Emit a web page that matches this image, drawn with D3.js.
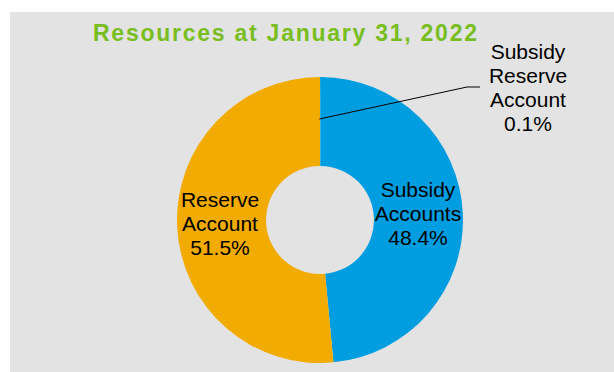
<!DOCTYPE html>
<html>
<head>
<meta charset="utf-8">
<script src="https://cdn.jsdelivr.net/npm/d3@7"></script>
<style>
  body { margin: 0; background: #fff; }
  text { font-family: "Liberation Sans", Arial, sans-serif; }
</style>
</head>
<body>
<div id="my_dataviz"></div>
<script>
// data
var categories = ["Subsidy Reserve Account", "Subsidy Accounts", "Reserve Account"]
var values = [0.1, 48.4, 51.5]
var labelLines = [
  ["Subsidy", "Reserve", "Account", "0.1%"],
  ["Subsidy", "Accounts", "48.4%"],
  ["Reserve", "Account", "51.5%"]
]
var colors = ["#009ee0", "#009ee0", "#f2ab00"]

var width = 614,
    height = 372,
    cx = 320,
    cy = 220,
    radius = 143,
    inner = 54

var svg = d3.select("#my_dataviz")
  .append("svg")
    .attr("width", width)
    .attr("height", height)

// gray plot background
svg.append("rect")
  .attr("x", 10).attr("y", 12)
  .attr("width", width - 10).attr("height", height - 12)
  .attr("fill", "#e3e3e3")

svg.append("text")
  .attr("x", 93).attr("y", 41)
  .attr("textLength", 384)
  .attr("lengthAdjust", "spacing")
  .style("font-size", "23px")
  .style("font-weight", "bold")
  .attr("fill", "#78be20")
  .text("Resources at January 31, 2022")

var g = svg.append("g")
  .attr("transform", "translate(" + cx + "," + cy + ")")

var pie = d3.pie().sort(null).value(function(d) { return d.value })
var data_ready = pie(categories.map(function(c, i) { return { key: c, value: values[i], i: i } }))

var arc = d3.arc().innerRadius(inner).outerRadius(radius)

g.selectAll("path")
  .data(data_ready)
  .enter()
  .append("path")
    .attr("d", arc)
    .attr("fill", function(d) { return colors[d.data.i] })

// label positions (relative to centre)
var labelPos = [[208, -161], [98, -23], [-100, -13]]

data_ready.forEach(function(d, i) {
  var t = g.append("text")
    .attr("text-anchor", "middle")
    .style("font-size", "21px")
    .attr("fill", "#000")
  labelLines[i].forEach(function(l, j) {
    t.append("tspan")
      .attr("x", labelPos[i][0])
      .attr("y", labelPos[i][1] + j * 24)
      .text(l)
  })
})

// leader line for the small slice, from its spot on the ring to the label
var s = data_ready[0]
var mid = (s.startAngle + s.endAngle) / 2
var r0 = 101
g.append("polyline")
  .attr("points", [[Math.sin(mid) * r0 - 1, -Math.cos(mid) * r0], [147, -133], [160, -133]].map(function(p) { return p.join(",") }).join(" "))
  .attr("fill", "none")
  .attr("stroke", "#000")
  .attr("stroke-width", 1)
</script>
</body>
</html>
